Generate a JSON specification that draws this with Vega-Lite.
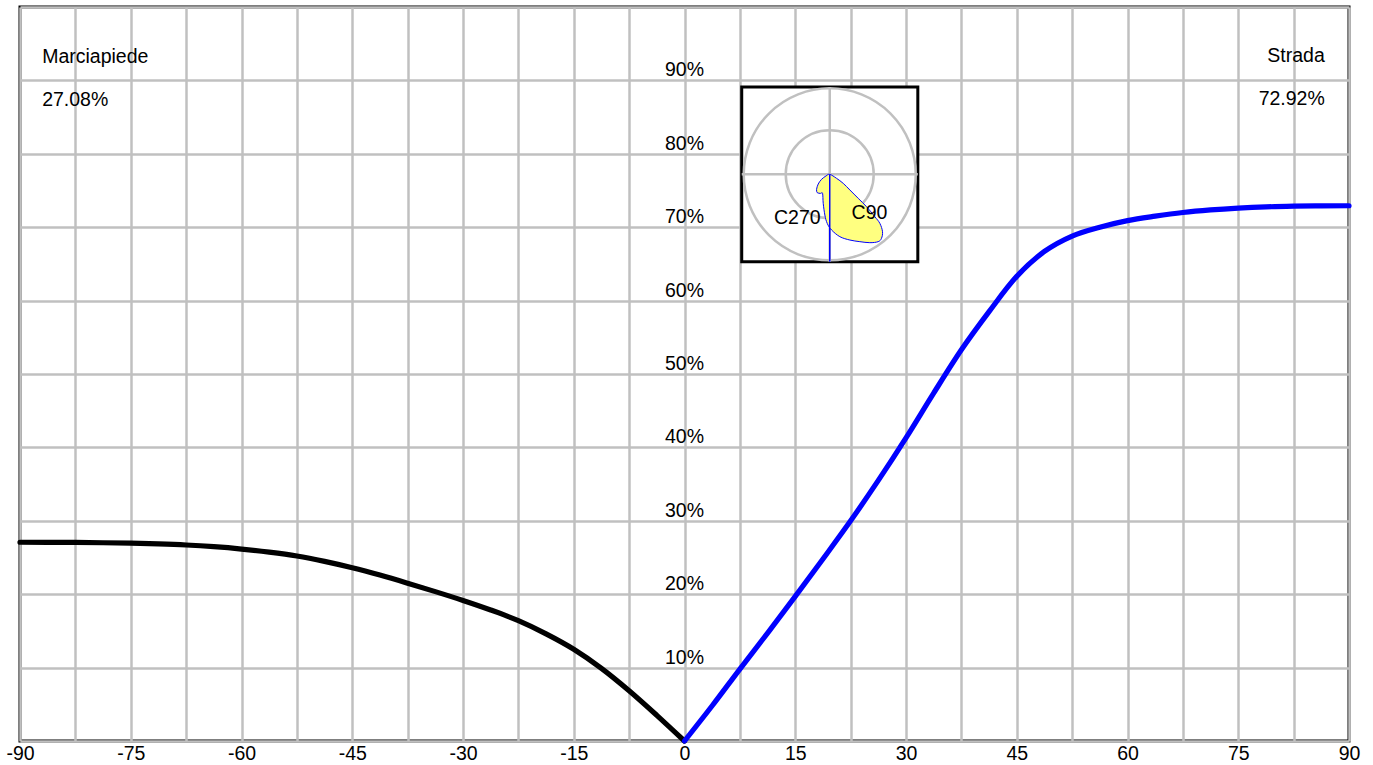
{
  "$schema": "https://vega.github.io/schema/vega-lite/v6.json",
  "width": 1329,
  "height": 734,
  "autosize": "none",
  "padding": {"left": 20, "top": 7, "right": 24, "bottom": 24},
  "background": "white",
  "config": {
    "view": {"stroke": "black", "strokeWidth": 3},
    "font": "Liberation Sans",
    "text": {"font": "Liberation Sans", "fontSize": 19.5, "color": "black"}
  },
  "datasets": {
    "curves": [
      {"x": -90, "y": 27.08, "s": "Marciapiede"},
      {"x": -86.25, "y": 27.07, "s": "Marciapiede"},
      {"x": -82.5, "y": 27.05, "s": "Marciapiede"},
      {"x": -78.75, "y": 27.01, "s": "Marciapiede"},
      {"x": -75, "y": 26.95, "s": "Marciapiede"},
      {"x": -71.25, "y": 26.85, "s": "Marciapiede"},
      {"x": -67.5, "y": 26.7, "s": "Marciapiede"},
      {"x": -63.75, "y": 26.47, "s": "Marciapiede"},
      {"x": -60, "y": 26.15, "s": "Marciapiede"},
      {"x": -56.25, "y": 25.73, "s": "Marciapiede"},
      {"x": -52.5, "y": 25.2, "s": "Marciapiede"},
      {"x": -48.75, "y": 24.47, "s": "Marciapiede"},
      {"x": -45, "y": 23.6, "s": "Marciapiede"},
      {"x": -41.25, "y": 22.6, "s": "Marciapiede"},
      {"x": -37.5, "y": 21.5, "s": "Marciapiede"},
      {"x": -33.75, "y": 20.35, "s": "Marciapiede"},
      {"x": -30, "y": 19.15, "s": "Marciapiede"},
      {"x": -26.25, "y": 17.85, "s": "Marciapiede"},
      {"x": -22.5, "y": 16.4, "s": "Marciapiede"},
      {"x": -18.75, "y": 14.6, "s": "Marciapiede"},
      {"x": -15, "y": 12.5, "s": "Marciapiede"},
      {"x": -11.25, "y": 9.9, "s": "Marciapiede"},
      {"x": -7.5, "y": 6.85, "s": "Marciapiede"},
      {"x": -3.75, "y": 3.5, "s": "Marciapiede"},
      {"x": 0, "y": 0, "s": "Marciapiede"},
      {"x": 0, "y": 0, "s": "Strada"},
      {"x": 3.75, "y": 4.8, "s": "Strada"},
      {"x": 7.5, "y": 9.8, "s": "Strada"},
      {"x": 11.25, "y": 14.7, "s": "Strada"},
      {"x": 15, "y": 19.7, "s": "Strada"},
      {"x": 18.75, "y": 24.8, "s": "Strada"},
      {"x": 22.5, "y": 30.0, "s": "Strada"},
      {"x": 26.25, "y": 35.5, "s": "Strada"},
      {"x": 30, "y": 41.3, "s": "Strada"},
      {"x": 33.75, "y": 47.4, "s": "Strada"},
      {"x": 37.5, "y": 53.3, "s": "Strada"},
      {"x": 41.25, "y": 58.5, "s": "Strada"},
      {"x": 45, "y": 63.3, "s": "Strada"},
      {"x": 48.75, "y": 66.7, "s": "Strada"},
      {"x": 52.5, "y": 68.8, "s": "Strada"},
      {"x": 56.25, "y": 70.0, "s": "Strada"},
      {"x": 60, "y": 70.9, "s": "Strada"},
      {"x": 63.75, "y": 71.5, "s": "Strada"},
      {"x": 67.5, "y": 72.0, "s": "Strada"},
      {"x": 71.25, "y": 72.35, "s": "Strada"},
      {"x": 75, "y": 72.6, "s": "Strada"},
      {"x": 78.75, "y": 72.77, "s": "Strada"},
      {"x": 82.5, "y": 72.86, "s": "Strada"},
      {"x": 86.25, "y": 72.91, "s": "Strada"},
      {"x": 90, "y": 72.92, "s": "Strada"}
    ],
    "ylabels": [
      {"x": 0, "y": 10, "t": "10%"},
      {"x": 0, "y": 20, "t": "20%"},
      {"x": 0, "y": 30, "t": "30%"},
      {"x": 0, "y": 40, "t": "40%"},
      {"x": 0, "y": 50, "t": "50%"},
      {"x": 0, "y": 60, "t": "60%"},
      {"x": 0, "y": 70, "t": "70%"},
      {"x": 0, "y": 80, "t": "80%"},
      {"x": 0, "y": 90, "t": "90%"}
    ],
    "notesLeft": [
      {"x": -87.0, "y": 92.4, "t": "Marciapiede"},
      {"x": -87.0, "y": 86.5, "t": "27.08%"}
    ],
    "notesRight": [
      {"x": 86.72, "y": 92.45, "t": "Strada"},
      {"x": 86.72, "y": 86.6, "t": "72.92%"}
    ],
    "box": [{"x": 7.75, "x2": 31.6, "y": 65.3, "y2": 89.1}],
    "cross": [
      {"x": 7.75, "x2": 31.6, "y": 77.2, "y2": 77.2},
      {"x": 19.67, "x2": 19.67, "y": 65.3, "y2": 89.1}
    ],
    "centre": [{"x": 19.67, "y": 77.2}],
    "blob": [
      {"i": 0, "x": 19.67, "y": 77.2},
      {"i": 1, "x": 20.59, "y": 76.66},
      {"i": 2, "x": 21.5, "y": 75.97},
      {"i": 3, "x": 22.4, "y": 75.07},
      {"i": 4, "x": 23.53, "y": 73.93},
      {"i": 5, "x": 24.65, "y": 72.8},
      {"i": 6, "x": 25.78, "y": 71.43},
      {"i": 7, "x": 26.46, "y": 70.52},
      {"i": 8, "x": 26.82, "y": 69.39},
      {"i": 9, "x": 26.68, "y": 68.48},
      {"i": 10, "x": 26.23, "y": 68.03},
      {"i": 11, "x": 25.1, "y": 67.89},
      {"i": 12, "x": 23.75, "y": 68.03},
      {"i": 13, "x": 22.4, "y": 68.25},
      {"i": 14, "x": 21.04, "y": 68.71},
      {"i": 15, "x": 19.92, "y": 69.62},
      {"i": 16, "x": 19.33, "y": 70.52},
      {"i": 17, "x": 19.01, "y": 71.66},
      {"i": 18, "x": 18.79, "y": 73.25},
      {"i": 19, "x": 18.7, "y": 74.61},
      {"i": 20, "x": 18.43, "y": 74.61},
      {"i": 21, "x": 17.98, "y": 74.7},
      {"i": 22, "x": 17.89, "y": 75.16},
      {"i": 23, "x": 18.11, "y": 75.88},
      {"i": 24, "x": 18.56, "y": 76.52},
      {"i": 25, "x": 19.15, "y": 76.97}
    ],
    "stem": [{"x": 19.67, "y": 77.2, "y2": 65.3}],
    "insetLabelsRight": [{"x": 18.43, "y": 70.44, "t": "C270"}],
    "insetLabelsLeft": [{"x": 22.63, "y": 71.16, "t": "C90"}]
  },
  "layer": [
    {
      "data": {"name": "curves"},
      "mark": {"type": "line", "strokeWidth": 5.2, "interpolate": "monotone", "strokeCap": "round", "strokeJoin": "round"},
      "encoding": {
        "x": {
          "field": "x", "type": "quantitative",
          "scale": {"domain": [-90, 90], "nice": false, "zero": false},
          "axis": {
            "title": null,
            "values": [-90, -82.5, -75, -67.5, -60, -52.5, -45, -37.5, -30, -22.5, -15, -7.5, 0, 7.5, 15, 22.5, 30, 37.5, 45, 52.5, 60, 67.5, 75, 82.5, 90],
            "labelExpr": "datum.value % 15 === 0 ? '' + datum.value : ''",
            "grid": true, "gridColor": "#c0c0c0", "gridWidth": 2.5, "gridOpacity": 1,
            "domain": false, "ticks": false,
            "labelFont": "Liberation Sans", "labelFontSize": 19.5, "labelColor": "black",
            "labelPadding": 3, "labelFlush": false, "labelOverlap": false, "labelBound": false
          }
        },
        "y": {
          "field": "y", "type": "quantitative",
          "scale": {"domain": [0, 100], "nice": false},
          "axis": {
            "title": null,
            "values": [0, 10, 20, 30, 40, 50, 60, 70, 80, 90, 100],
            "labels": false, "ticks": false, "domain": false,
            "grid": true, "gridColor": "#c0c0c0", "gridWidth": 2.5, "gridOpacity": 1
          }
        },
        "color": {
          "field": "s", "type": "nominal",
          "scale": {"domain": ["Marciapiede", "Strada"], "range": ["#000000", "#0000ff"]},
          "legend": null
        }
      }
    },
    {
      "data": {"name": "ylabels"},
      "mark": {"type": "text", "align": "center", "baseline": "alphabetic", "dy": -4},
      "encoding": {
        "x": {"field": "x", "type": "quantitative"},
        "y": {"field": "y", "type": "quantitative"},
        "text": {"field": "t"}
      }
    },
    {
      "data": {"name": "notesLeft"},
      "mark": {"type": "text", "align": "left", "baseline": "alphabetic"},
      "encoding": {
        "x": {"field": "x", "type": "quantitative"},
        "y": {"field": "y", "type": "quantitative"},
        "text": {"field": "t"}
      }
    },
    {
      "data": {"name": "notesRight"},
      "mark": {"type": "text", "align": "right", "baseline": "alphabetic"},
      "encoding": {
        "x": {"field": "x", "type": "quantitative"},
        "y": {"field": "y", "type": "quantitative"},
        "text": {"field": "t"}
      }
    },
    {
      "data": {"name": "box"},
      "mark": {"type": "rect", "fill": "white", "stroke": "black", "strokeWidth": 3},
      "encoding": {
        "x": {"field": "x", "type": "quantitative"},
        "x2": {"field": "x2"},
        "y": {"field": "y", "type": "quantitative"},
        "y2": {"field": "y2"}
      }
    },
    {
      "data": {"name": "cross"},
      "mark": {"type": "rule", "color": "#c0c0c0", "strokeWidth": 2.5},
      "encoding": {
        "x": {"field": "x", "type": "quantitative"},
        "x2": {"field": "x2"},
        "y": {"field": "y", "type": "quantitative"},
        "y2": {"field": "y2"}
      }
    },
    {
      "data": {"name": "centre"},
      "mark": {"type": "point", "shape": "circle", "size": 29584, "filled": false, "stroke": "#c0c0c0", "strokeWidth": 2.5, "opacity": 1},
      "encoding": {
        "x": {"field": "x", "type": "quantitative"},
        "y": {"field": "y", "type": "quantitative"}
      }
    },
    {
      "data": {"name": "centre"},
      "mark": {"type": "point", "shape": "circle", "size": 7744, "filled": false, "stroke": "#c0c0c0", "strokeWidth": 2.5, "opacity": 1},
      "encoding": {
        "x": {"field": "x", "type": "quantitative"},
        "y": {"field": "y", "type": "quantitative"}
      }
    },
    {
      "data": {"name": "blob"},
      "mark": {"type": "line", "interpolate": "cardinal-closed", "fill": "#ffff80", "stroke": "#0000ff", "strokeWidth": 1},
      "encoding": {
        "x": {"field": "x", "type": "quantitative"},
        "y": {"field": "y", "type": "quantitative"},
        "order": {"field": "i", "type": "quantitative"}
      }
    },
    {
      "data": {"name": "stem"},
      "mark": {"type": "rule", "color": "#0000ff", "strokeWidth": 1.5},
      "encoding": {
        "x": {"field": "x", "type": "quantitative"},
        "y": {"field": "y", "type": "quantitative"},
        "y2": {"field": "y2"}
      }
    },
    {
      "data": {"name": "insetLabelsRight"},
      "mark": {"type": "text", "align": "right", "baseline": "alphabetic"},
      "encoding": {
        "x": {"field": "x", "type": "quantitative"},
        "y": {"field": "y", "type": "quantitative"},
        "text": {"field": "t"}
      }
    },
    {
      "data": {"name": "insetLabelsLeft"},
      "mark": {"type": "text", "align": "left", "baseline": "alphabetic"},
      "encoding": {
        "x": {"field": "x", "type": "quantitative"},
        "y": {"field": "y", "type": "quantitative"},
        "text": {"field": "t"}
      }
    }
  ]
}
